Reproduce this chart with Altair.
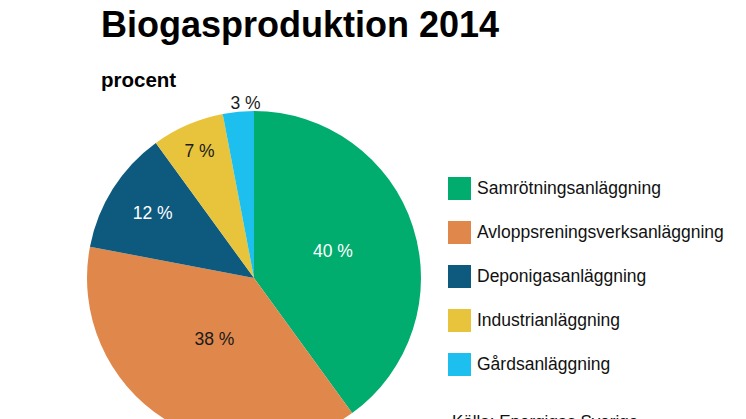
import altair as alt
import pandas as pd

categories = ["Samrötningsanläggning", "Avloppsreningsverksanläggning",
              "Deponigasanläggning", "Industrianläggning", "Gårdsanläggning"]
values = [40, 38, 12, 7, 3]
labels = ["40 %", "38 %", "12 %", "7 %", "3 %"]
colors = ["#00AD6E", "#E0884C", "#0E5A7F", "#E8C33C", "#1DBFEE"]

title_text = "Biogasproduktion 2014"
subtitle_text = "procent"
source_text = "Källa: Energigas Sverige"

# label styling (radius from centre, horizontal nudge, colour)
label_radius = [83, 74, 120, 137, 175]
label_dx = [0, 0, 0, 0, 8]
label_color = ["white", "#1a1a1a", "white", "#1a1a1a", "#1a1a1a"]

FONT = "Liberation Sans"
CX, CY, R = 246, 251, 167

df = pd.DataFrame({"cat": categories, "val": values, "lab": labels,
                   "idx": list(range(len(categories)))})

base = alt.Chart(df)

pie = base.mark_arc(outerRadius=R, stroke=None).encode(
    theta=alt.Theta("val:Q", stack=True),
    order=alt.Order("idx:Q"),
    color=alt.Color("cat:N", sort=categories,
                    scale=alt.Scale(domain=categories, range=colors),
                    legend=alt.Legend(
                        title=None, orient="none", legendX=440, legendY=150,
                        symbolType="square", symbolSize=529, symbolStrokeWidth=0,
                        symbolOpacity=1, labelFontSize=17.5, labelFont=FONT,
                        labelColor="#111", labelOffset=6, rowPadding=21,
                        labelLimit=400)),
    x=alt.value(CX), y=alt.value(CY),
)

layers = [pie]
for i, c in enumerate(categories):
    layers.append(
        base.mark_text(radius=label_radius[i], dx=label_dx[i], fontSize=17.5,
                       font=FONT, color=label_color[i]).encode(
            theta=alt.Theta("val:Q", stack=True),
            order=alt.Order("idx:Q"),
            text="lab:N",
            opacity=alt.condition(alt.datum.cat == c, alt.value(1), alt.value(0)),
            x=alt.value(CX), y=alt.value(CY),
        )
    )

tdf = pd.DataFrame({"t": [title_text]})
sdf = pd.DataFrame({"t": [subtitle_text]})
qdf = pd.DataFrame({"t": [source_text]})

title = alt.Chart(tdf).mark_text(align="left", baseline="alphabetic", fontSize=36,
                                 fontWeight="bold", font=FONT, color="#000").encode(
    text="t:N", x=alt.value(93), y=alt.value(10))
subtitle = alt.Chart(sdf).mark_text(align="left", baseline="alphabetic", fontSize=20.5,
                                    fontWeight="bold", font=FONT, color="#000").encode(
    text="t:N", x=alt.value(93), y=alt.value(60))
source = alt.Chart(qdf).mark_text(align="left", baseline="alphabetic", fontSize=17,
                                  font=FONT, color="#111").encode(
    text="t:N", x=alt.value(444), y=alt.value(400))

chart = alt.layer(*layers, title, subtitle, source).properties(
    width=730, height=430, padding=0
).configure_view(stroke=None)

chart.save("out.html", embed_options={"renderer": "svg", "actions": False})
